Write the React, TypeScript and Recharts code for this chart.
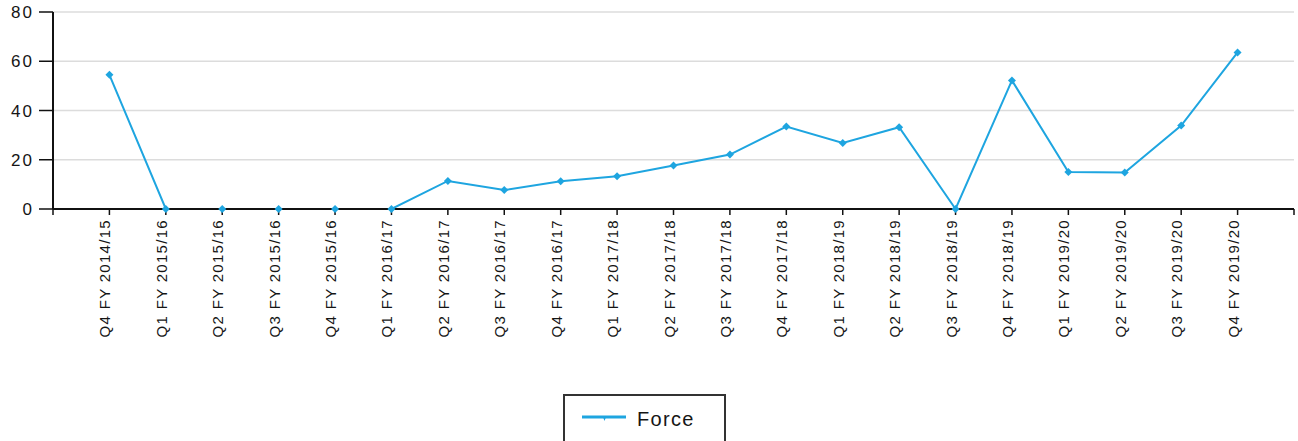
import React from 'react';
import { LineChart, Line, XAxis, YAxis, CartesianGrid } from 'recharts';

const categories = [
  'Q4 FY 2014/15', 'Q1 FY 2015/16', 'Q2 FY 2015/16', 'Q3 FY 2015/16', 'Q4 FY 2015/16',
  'Q1 FY 2016/17', 'Q2 FY 2016/17', 'Q3 FY 2016/17', 'Q4 FY 2016/17', 'Q1 FY 2017/18',
  'Q2 FY 2017/18', 'Q3 FY 2017/18', 'Q4 FY 2017/18', 'Q1 FY 2018/19', 'Q2 FY 2018/19',
  'Q3 FY 2018/19', 'Q4 FY 2018/19', 'Q1 FY 2019/20', 'Q2 FY 2019/20', 'Q3 FY 2019/20',
  'Q4 FY 2019/20',
];
const forceValues = [54.5, 0, 0, 0, 0, 0, 11.4, 7.7, 11.3, 13.3, 17.7, 22.1, 33.5, 26.8, 33.2, 0, 52.2, 15.0, 14.8, 33.9, 63.6];
const yTicks = [0, 20, 40, 60, 80];
const seriesName = 'Force';

const xTicks = [-1, ...categories.map((_, i) => i), categories.length];
const data = categories.map((c, i) => ({ idx: i, cat: c, force: forceValues[i] }));

const COLOR = '#1ea5e0';
const FONT = '"Liberation Sans", Arial, sans-serif';
const TEXT = '#151515';

const XTick = (props: any) => {
  const { x, y, payload } = props;
  const label = categories[payload.value] ?? '';
  if (!label) return null;
  return (
    <text
      transform={`translate(${x + 1},${y}) rotate(-90)`}
      textAnchor="end"
      fontFamily={FONT}
      fontSize={15}
      fill={TEXT}
      style={{ letterSpacing: '1.3px' }}
    >
      {label}
    </text>
  );
};

const YTick = (props: any) => {
  const { x, y, payload } = props;
  return (
    <text
      x={x}
      y={y}
      dy="0.36em"
      textAnchor="end"
      fontFamily={FONT}
      fontSize={17}
      fill={TEXT}
      style={{ letterSpacing: '2px' }}
    >
      {payload.value}
    </text>
  );
};

const Diamond = (props: any) => {
  const { cx, cy } = props;
  if (cx == null || cy == null) return null;
  const r = 4;
  return <path d={`M${cx},${cy - r}L${cx + r},${cy}L${cx},${cy + r}L${cx - r},${cy}Z`} fill={COLOR} />;
};

export default function App() {
  return (
    <div style={{ position: 'absolute', left: 0, top: 0, width: 1298, height: 441, background: '#fff', overflow: 'hidden' }}>
      <LineChart width={1298} height={441} data={data} margin={{ top: 12, right: 4, bottom: 0, left: 0 }}>
        <CartesianGrid vertical={false} stroke="#dcdcdc" strokeWidth={1.5} />
        <XAxis
          type="number"
          dataKey="idx"
          domain={[-1, categories.length]}
          ticks={xTicks}
          interval={0}
          height={232}
          tickSize={6}
          tickMargin={4}
          axisLine={{ stroke: '#111', strokeWidth: 2 }}
          tickLine={{ stroke: '#111', strokeWidth: 1.5 }}
          tick={<XTick />}
        />
        <YAxis
          domain={[0, 80]}
          ticks={yTicks}
          width={53}
          tickSize={14}
          tickMargin={5}
          axisLine={{ stroke: '#111', strokeWidth: 2 }}
          tickLine={{ stroke: '#111', strokeWidth: 1.5 }}
          tick={<YTick />}
        />
        <Line
          type="linear"
          dataKey="force"
          name={seriesName}
          stroke={COLOR}
          strokeWidth={2}
          dot={<Diamond />}
          activeDot={false}
          isAnimationActive={false}
        />
      </LineChart>
      <div
        style={{
          position: 'absolute',
          left: 563,
          top: 394,
          width: 159,
          height: 60,
          border: '2px solid #333',
          boxSizing: 'content-box',
        }}
      >
        <svg width={159} height={60} style={{ position: 'absolute', left: 0, top: 0 }}>
          <line x1={17} y1={21} x2={61} y2={21} stroke={COLOR} strokeWidth={3} />
          <path d="M38,21L41,21L39.5,25Z" fill={COLOR} />
          <text x={72} y={30} fontFamily={FONT} fontSize={20} fill={TEXT} style={{ letterSpacing: '1.3px' }}>
            {seriesName}
          </text>
        </svg>
      </div>
    </div>
  );
}
